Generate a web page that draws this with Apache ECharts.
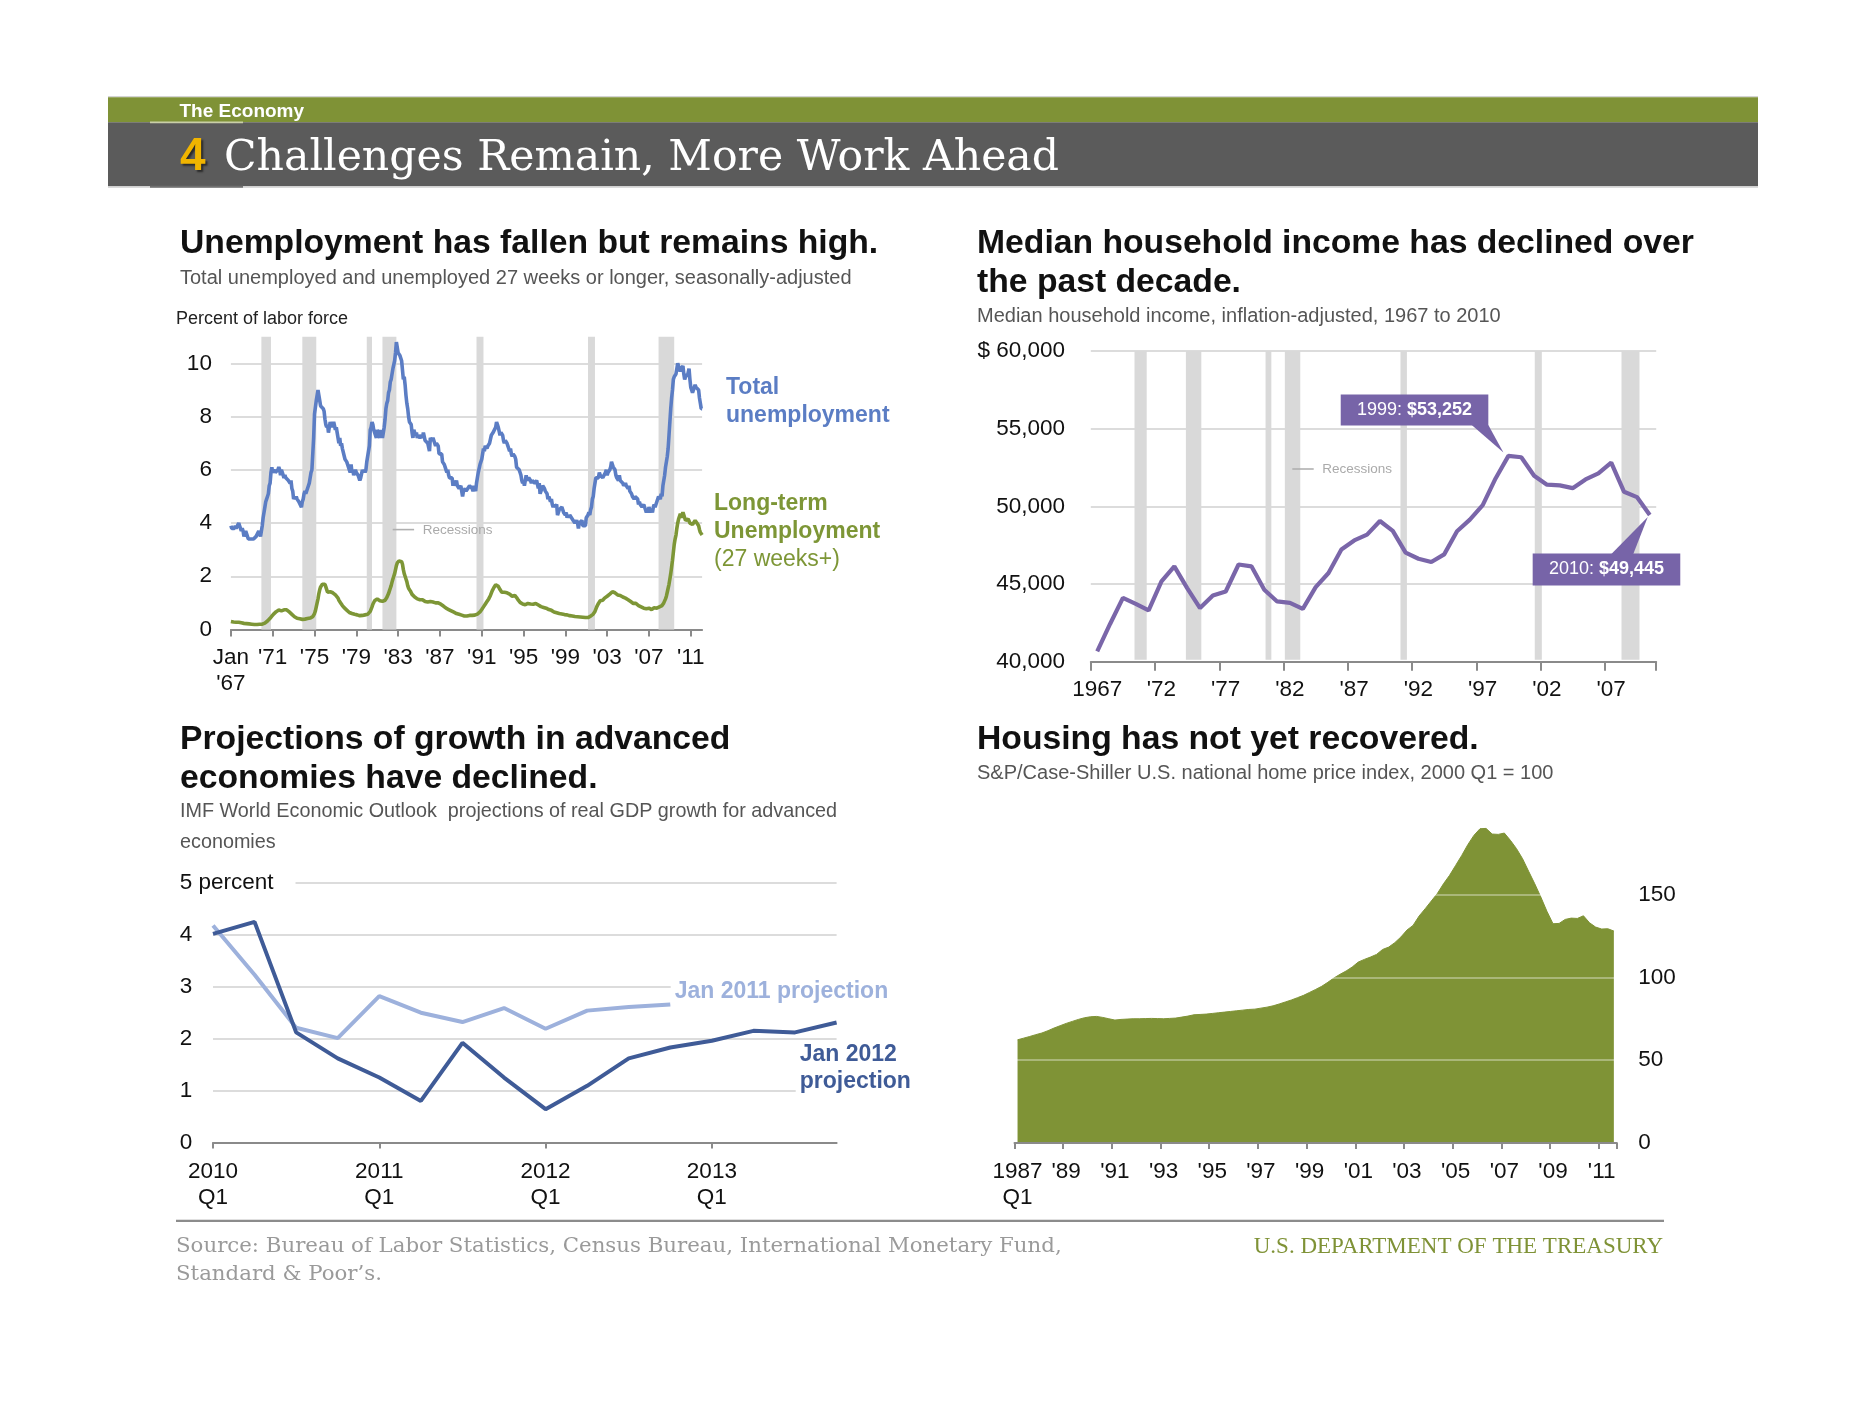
<!DOCTYPE html>
<html><head><meta charset="utf-8">
<script src="https://cdn.jsdelivr.net/npm/echarts@6/dist/echarts.min.js"></script>
<style>html,body{margin:0;padding:0;background:#fff}#c{width:1866px;height:1404px}</style>
</head><body><div id="c"></div>
<script>
const SANS = '"Liberation Sans", Arial, Helvetica, sans-serif';
const SERIF = '"DejaVu Serif", serif';
const SERIF2 = '"Liberation Serif", "Times New Roman", serif';

// ---------- Chart 1: unemployment (monthly, Jan 1967 - Feb 2012) ----------
const unemploymentTotal = [
3.9,3.8,3.8,3.8,3.8,3.9,3.8,3.8,3.8,4.0,3.9,3.8,
3.7,3.8,3.7,3.5,3.5,3.7,3.7,3.5,3.4,3.4,3.4,3.4,
3.4,3.4,3.4,3.4,3.4,3.5,3.5,3.5,3.7,3.7,3.5,3.5,
3.9,4.2,4.4,4.6,4.8,4.9,5.0,5.1,5.4,5.5,5.9,6.1,
5.9,5.9,6.0,5.9,5.9,5.9,6.0,6.1,6.0,5.8,6.0,6.0,
5.8,5.7,5.8,5.7,5.7,5.7,5.6,5.6,5.5,5.6,5.3,5.2,
4.9,5.0,4.9,5.0,4.9,4.9,4.8,4.8,4.8,4.6,4.8,4.9,
5.1,5.2,5.1,5.1,5.1,5.4,5.5,5.5,5.9,6.0,6.6,7.2,
8.1,8.1,8.6,8.8,9.0,8.8,8.6,8.4,8.4,8.4,8.3,8.2,
7.9,7.7,7.6,7.7,7.4,7.6,7.8,7.8,7.6,7.7,7.8,7.8,
7.5,7.6,7.4,7.2,7.0,7.2,6.9,7.0,6.8,6.8,6.8,6.4,
6.4,6.3,6.3,6.1,6.0,5.9,6.2,5.9,6.0,5.8,5.9,6.0,
5.9,5.9,5.8,5.8,5.6,5.7,5.7,6.0,5.9,6.0,5.9,6.0,
6.3,6.3,6.3,6.9,7.5,7.6,7.8,7.7,7.5,7.5,7.5,7.2,
7.5,7.4,7.4,7.2,7.5,7.5,7.2,7.4,7.6,7.9,8.3,8.5,
8.6,8.9,9.0,9.3,9.4,9.6,9.8,9.8,10.1,10.4,10.8,10.8,
10.4,10.4,10.3,10.2,10.1,10.1,9.4,9.5,9.2,8.8,8.5,8.3,
8.0,7.8,7.8,7.7,7.4,7.2,7.5,7.5,7.3,7.4,7.2,7.3,
7.3,7.2,7.2,7.3,7.2,7.4,7.4,7.1,7.1,7.1,7.0,7.0,
6.7,7.2,7.2,7.1,7.2,7.2,7.0,6.9,7.0,7.0,6.9,6.6,
6.6,6.6,6.6,6.3,6.3,6.2,6.1,6.0,5.9,6.0,5.8,5.7,
5.7,5.7,5.7,5.4,5.6,5.4,5.4,5.6,5.4,5.4,5.3,5.3,
5.4,5.2,5.0,5.2,5.2,5.3,5.2,5.2,5.3,5.3,5.4,5.4,
5.4,5.3,5.2,5.4,5.4,5.2,5.5,5.7,5.9,5.9,6.2,6.3,
6.4,6.6,6.8,6.7,6.9,6.9,6.8,6.9,6.9,7.0,7.0,7.3,
7.3,7.4,7.4,7.4,7.6,7.8,7.7,7.6,7.6,7.3,7.4,7.4,
7.3,7.1,7.0,7.1,7.1,7.0,6.9,6.8,6.7,6.8,6.6,6.5,
6.6,6.6,6.5,6.4,6.1,6.1,6.1,6.0,5.9,5.8,5.6,5.5,
5.6,5.4,5.4,5.8,5.6,5.6,5.7,5.7,5.6,5.5,5.6,5.6,
5.6,5.5,5.5,5.6,5.6,5.3,5.5,5.1,5.2,5.2,5.4,5.4,
5.3,5.2,5.2,5.1,4.9,5.0,4.9,4.8,4.9,4.7,4.6,4.7,
4.6,4.6,4.7,4.3,4.4,4.5,4.5,4.5,4.6,4.5,4.4,4.4,
4.3,4.4,4.2,4.3,4.2,4.3,4.3,4.2,4.2,4.1,4.1,4.0,
4.0,4.1,4.0,3.8,4.0,4.0,4.0,4.1,3.9,3.9,3.9,3.9,
4.2,4.2,4.3,4.4,4.3,4.5,4.6,4.9,5.0,5.3,5.5,5.7,
5.7,5.7,5.7,5.9,5.8,5.8,5.8,5.7,5.7,5.7,5.9,6.0,
5.8,5.9,5.9,6.0,6.1,6.3,6.2,6.1,6.1,6.0,5.8,5.7,
5.7,5.6,5.8,5.6,5.6,5.6,5.5,5.4,5.4,5.5,5.4,5.4,
5.3,5.4,5.2,5.2,5.1,5.0,5.0,4.9,5.0,5.0,5.0,4.9,
4.7,4.8,4.7,4.7,4.6,4.6,4.7,4.7,4.5,4.4,4.5,4.4,
4.6,4.5,4.4,4.5,4.4,4.6,4.7,4.6,4.7,4.7,4.7,5.0,
5.0,4.9,5.1,5.0,5.4,5.6,5.8,6.1,6.1,6.5,6.8,7.3,
7.8,8.3,8.7,9.0,9.4,9.5,9.5,9.6,9.8,10.0,9.9,9.9,
9.7,9.8,9.8,9.9,9.6,9.4,9.5,9.6,9.5,9.5,9.8,9.4,
9.1,9.0,8.9,9.0,9.1,9.2,9.1,9.1,9.1,9.0,8.7,8.5,
8.3,8.3];
const unemploymentLongTerm = [
.30,.29,.28,.28,.27,.27,.27,.26,.26,.27,.26,.25,
.25,.24,.24,.23,.23,.22,.22,.22,.21,.21,.21,.21,
.20,.20,.20,.19,.19,.19,.19,.19,.20,.20,.19,.19,
.20,.21,.22,.24,.26,.29,.32,.35,.38,.42,.46,.50,
.55,.58,.62,.65,.67,.70,.72,.73,.74,.72,.70,.71,
.72,.74,.76,.77,.74,.70,.68,.66,.63,.60,.57,.55,
.50,.48,.45,.44,.42,.42,.41,.40,.39,.38,.38,.38,
.38,.39,.39,.40,.41,.42,.42,.43,.44,.46,.48,.52,
.60,.70,.85,1.00,1.15,1.35,1.50,1.60,1.65,1.70,1.72,1.74,
1.70,1.60,1.50,1.40,1.35,1.38,1.42,1.40,1.35,1.38,1.40,1.35,
1.30,1.30,1.25,1.18,1.10,1.05,1.00,.95,.90,.85,.82,.78,
.75,.73,.70,.66,.64,.62,.62,.60,.58,.58,.57,.56,
.55,.55,.54,.53,.52,.52,.53,.53,.54,.55,.55,.56,
.56,.57,.59,.62,.68,.75,.85,.95,1.02,1.08,1.12,1.15,
1.15,1.12,1.10,1.08,1.08,1.07,1.06,1.05,1.07,1.10,1.15,1.20,
1.25,1.35,1.45,1.55,1.65,1.78,1.90,2.00,2.10,2.25,2.40,2.50,
2.55,2.58,2.62,2.60,2.55,2.45,2.25,2.10,2.00,1.90,1.80,1.65,
1.55,1.50,1.45,1.38,1.32,1.28,1.25,1.22,1.20,1.18,1.15,1.15,
1.15,1.12,1.10,1.10,1.12,1.10,1.08,1.05,1.05,1.05,1.03,1.00,
1.00,1.05,1.08,1.05,1.03,1.05,1.02,1.00,1.00,1.02,1.00,.98,
.95,.95,.93,.90,.88,.85,.83,.80,.78,.77,.75,.72,
.72,.70,.68,.66,.65,.63,.62,.60,.60,.58,.57,.56,
.55,.54,.52,.52,.51,.51,.50,.51,.52,.52,.53,.52,
.52,.53,.52,.53,.54,.55,.56,.58,.60,.62,.66,.70,
.75,.80,.85,.90,.95,1.00,1.05,1.10,1.15,1.20,1.28,1.35,
1.45,1.52,1.58,1.62,1.68,1.72,1.70,1.62,1.55,1.50,1.45,1.40,
1.40,1.42,1.40,1.38,1.40,1.38,1.35,1.37,1.33,1.30,1.28,1.25,
1.30,1.32,1.28,1.25,1.20,1.15,1.10,1.05,1.02,1.00,.98,.96,
.95,.94,.93,.95,1.00,.98,.97,.95,.96,.94,.93,.95,
1.02,1.00,.98,.97,.95,.92,.90,.88,.86,.85,.84,.83,
.82,.80,.80,.78,.77,.75,.74,.72,.72,.70,.68,.66,
.65,.64,.63,.62,.61,.60,.59,.58,.58,.57,.57,.56,
.56,.55,.55,.54,.53,.52,.52,.51,.51,.50,.50,.49,
.49,.48,.48,.47,.47,.47,.46,.46,.46,.45,.45,.45,
.46,.46,.45,.47,.48,.50,.52,.55,.58,.62,.68,.75,
.85,.92,.98,1.02,1.08,1.12,1.15,1.10,1.12,1.18,1.20,1.25,
1.25,1.28,1.30,1.33,1.38,1.40,1.42,1.38,1.40,1.38,1.35,1.32,
1.30,1.32,1.30,1.28,1.30,1.25,1.22,1.20,1.22,1.18,1.15,1.12,
1.12,1.10,1.08,1.05,1.02,1.00,.98,.95,.95,.98,.95,.92,
.90,.88,.88,.85,.85,.82,.80,.80,.78,.78,.80,.78,
.80,.78,.76,.75,.78,.80,.82,.80,.78,.80,.82,.85,
.85,.86,.88,.90,.92,1.00,1.05,1.15,1.25,1.40,1.55,1.70,
1.90,2.10,2.35,2.60,2.90,3.20,3.40,3.55,3.80,4.00,4.15,4.20,
4.35,4.20,4.25,4.40,4.35,4.20,4.10,4.05,4.10,4.15,4.10,4.00,
4.05,3.95,3.95,3.95,4.00,4.10,4.05,4.00,3.95,3.90,3.75,3.65,
3.65,3.55];
const months = unemploymentTotal.map((_, i) => (1967 + Math.floor(i / 12)) + '-' + String(i % 12 + 1).padStart(2, '0'));
const recessionsMonthly = [['1969-12','1970-11'],['1973-11','1975-03'],['1980-01','1980-07'],['1981-07','1982-11'],['1990-07','1991-03'],['2001-03','2001-11'],['2007-12','2009-06']];

// ---------- Chart 2: median household income ----------
const incomeYears = Array.from({length: 44}, (_, i) => String(1967 + i));
const medianIncome = [40670,42430,44110,43725,43300,45170,46140,44740,43450,44260,
44520,46260,46140,44630,43880,43790,43400,44800,45710,47230,
47810,48180,49060,48420,47020,46630,46420,46910,48400,49150,
50080,51800,53252,53164,51970,51398,51353,51174,51739,52124,
52823,50939,50599,49445];
const recessionsAnnual = [[1970.4,1971.35],[1974.4,1975.6],[1980.6,1981.05],[1982.1,1983.3],[1991.1,1991.6],[2001.55,2002.1],[2008.3,2009.7]];

// ---------- Chart 3: IMF projections ----------
const gdpQuarters = ['2010Q1','2010Q2','2010Q3','2010Q4','2011Q1','2011Q2','2011Q3','2011Q4','2012Q1','2012Q2','2012Q3','2012Q4','2013Q1','2013Q2','2013Q3','2013Q4'];
const gdpJan2011 = [4.18,3.23,2.21,2.01,2.82,2.50,2.32,2.59,2.19,2.54,2.61,2.66];
const gdpJan2012 = [4.02,4.25,2.12,1.62,1.25,0.80,1.92,1.25,0.64,1.09,1.62,1.83,1.96,2.15,2.12,2.31];

// ---------- Chart 4: home prices (quarterly 1987Q1 - 2011Q3) ----------
const homePriceIndex = [
62.3,63.3,64.3,65.4, 66.4,67.8,69.4,70.8, 72.2,73.4,74.6,75.6, 76.2,76.4,75.8,75.0,
74.2,74.6,74.8,75.0, 75.0,75.1,75.2,75.1, 75.0,75.2,75.4,76.0, 76.6,77.4,77.6,77.8,
78.2,78.6,79.0,79.4, 79.8,80.2,80.6,80.8, 81.4,82.0,82.8,83.9, 85.1,86.3,87.7,89.1,
90.9,92.7,94.6,97.0, 99.6,101.8,103.8,106.2, 109.2,110.8,112.2,113.8, 116.8,118.2,120.9,124.3,
128.5,131.3,137.0,141.4, 146.0,150.6,156.4,161.5, 167.5,173.5,180.0,185.6, 189.6,189.8,186.4,186.2,
187.0,182.6,177.6,171.5, 163.9,156.4,148.4,139.8, 132.3,132.5,134.9,135.7, 135.5,137.1,132.9,130.3,
129.1,129.3,127.9];
const homeQuarters = homePriceIndex.map((_, i) => (1987 + Math.floor(i / 4)) + 'Q' + (i % 4 + 1));

// ---------- styles ----------
const AXIS_GRAY = '#8a8a8a';
const GRID_GRAY = '#dcdcdc';
const tickFont = {color: '#111', fontSize: 22.5, fontFamily: SANS};
const C_BLUE = '#5b7dc4', C_GREEN = '#7d9636', C_PURPLE = '#7a66a9', C_LB = '#9db1dc', C_DB = '#3f5b97', C_AREA = '#7f9336';

const chart = echarts.init(document.getElementById('c'), null, {renderer: 'canvas'});

const grids = [
  {left: 230.9, top: 336.8, width: 471.2, height: 292.7},
  {left: 1090.8, top: 351.1, width: 565.4, height: 310.6},
  {left: 213, top: 883, width: 623.6, height: 259.4},
  {left: 1014.5, top: 811.5, width: 602.4, height: 331.6}
].map(g => Object.assign(g, {containLabel: false, outerBoundsMode: 'none', show: false}));

const axisLineG = {show: true, onZero: false, lineStyle: {color: AXIS_GRAY, width: 2}};

const option = {
  animation: false,
  backgroundColor: '#fff',
  textStyle: {fontFamily: SANS},
  grid: grids,
  xAxis: [
    {type: 'category', gridIndex: 0, data: months, boundaryGap: false, axisLine: axisLineG,
     axisTick: {show: true, interval: 47, length: 7, lineStyle: {color: AXIS_GRAY, width: 2}},
     axisLabel: Object.assign({interval: 47, margin: 15.5, lineHeight: 26,
       formatter: (v, i) => i === 0 ? "Jan\n'67" : "'" + v.slice(2, 4)}, tickFont),
     splitLine: {show: false}},
    {type: 'category', gridIndex: 1, data: incomeYears, boundaryGap: true, axisLine: axisLineG,
     axisTick: {show: true, interval: 4, alignWithLabel: false, length: 9, lineStyle: {color: AXIS_GRAY, width: 2}},
     axisLabel: Object.assign({interval: 4, margin: 16.5, formatter: (v, i) => i === 0 ? v : "'" + v.slice(2)}, tickFont),
     splitLine: {show: false}},
    {type: 'value', gridIndex: 1, min: 1967, max: 2011, show: false, splitLine: {show: false}},
    {type: 'category', gridIndex: 2, data: gdpQuarters, boundaryGap: false, axisLine: axisLineG,
     axisTick: {show: true, interval: 3, length: 6, lineStyle: {color: AXIS_GRAY, width: 2}},
     axisLabel: Object.assign({interval: 3, margin: 16, lineHeight: 26, formatter: v => v.slice(0, 4) + '\nQ1'}, tickFont),
     splitLine: {show: false}},
    {type: 'category', gridIndex: 3, data: homeQuarters, boundaryGap: true, z: 3, axisLine: axisLineG,
     axisTick: {show: true, interval: 7, alignWithLabel: false, length: 6, lineStyle: {color: AXIS_GRAY, width: 2}},
     axisLabel: Object.assign({interval: 7, margin: 16, lineHeight: 26,
       formatter: (v, i) => i === 0 ? v.slice(0, 4) + '\nQ1' : "'" + v.slice(2, 4)}, tickFont),
     splitLine: {show: false}}
  ],
  yAxis: [
    {type: 'value', gridIndex: 0, min: 0, max: 11, interval: 2, axisLine: {show: false}, axisTick: {show: false},
     axisLabel: Object.assign({margin: 19, formatter: v => v > 10 ? '' : String(v)}, tickFont),
     splitLine: {show: true, showMaxLine: false, lineStyle: {color: [GRID_GRAY, GRID_GRAY, GRID_GRAY, GRID_GRAY, GRID_GRAY, GRID_GRAY, 'rgba(0,0,0,0)'], width: 2}}},
    {type: 'value', gridIndex: 1, min: 40000, max: 60000, interval: 5000, axisLine: {show: false}, axisTick: {show: false},
     axisLabel: Object.assign({margin: 25.8, formatter: v => (v === 60000 ? '$ ' : '') + v.toLocaleString('en-US')}, tickFont),
     splitLine: {show: true, lineStyle: {color: GRID_GRAY, width: 2}}},
    {type: 'value', gridIndex: 2, min: 0, max: 5, interval: 1, axisLine: {show: false}, axisTick: {show: false},
     axisLabel: Object.assign({margin: 33.3, align: 'left', formatter: v => v === 5 ? '{p|5 percent}' : String(v),
       rich: {p: {color: '#111', fontSize: 22.5, fontFamily: SANS, backgroundColor: '#fff', padding: [4, 22, 4, 0]}}}, tickFont),
     splitLine: {show: true, lineStyle: {color: GRID_GRAY, width: 2}}},
    {type: 'value', gridIndex: 3, position: 'right', min: 0, max: 200, interval: 50, z: 3, axisLine: {show: false}, axisTick: {show: false},
     axisLabel: Object.assign({margin: 21.4, align: 'left', formatter: v => v >= 200 ? '' : String(v)}, tickFont),
     splitLine: {show: true, showMaxLine: false, lineStyle: {color: ['rgba(255,255,255,0.45)', 'rgba(255,255,255,0.45)', 'rgba(255,255,255,0.45)', 'rgba(255,255,255,0.45)', 'rgba(0,0,0,0)'], width: 1.5}}}
  ],
  series: [
    {type: 'custom', name: 'Recessions (monthly)', xAxisIndex: 0, yAxisIndex: 0, silent: true, z: 1, clip: false,
     data: recessionsMonthly.map(r => [months.indexOf(r[0]), months.indexOf(r[1]), 5]),
     encode: {x: [0, 1], y: 2},
     renderItem: (params, api) => {
       const a = api.coord([api.value(0), 11]);
       const b = api.coord([api.value(1), 0]);
       return {type: 'rect', shape: {x: a[0], y: a[1], width: b[0] - a[0], height: b[1] - a[1]}, style: {fill: '#d9d9d9'}};
     }},
    {type: 'line', name: 'Total unemployment', xAxisIndex: 0, yAxisIndex: 0, data: unemploymentTotal, symbol: 'none', z: 3,
     lineStyle: {color: C_BLUE, width: 3.6}, itemStyle: {color: C_BLUE}},
    {type: 'line', name: 'Long-term unemployment', xAxisIndex: 0, yAxisIndex: 0, data: unemploymentLongTerm, symbol: 'none', z: 3,
     lineStyle: {color: C_GREEN, width: 3.6}, itemStyle: {color: C_GREEN}},
    {type: 'custom', name: 'Recessions (annual)', xAxisIndex: 2, yAxisIndex: 1, silent: true, z: 1, clip: false,
     data: recessionsAnnual.map(r => [r[0], r[1], 50000]),
     encode: {x: [0, 1], y: 2},
     renderItem: (params, api) => {
       const a = api.coord([api.value(0), 60000]);
       const b = api.coord([api.value(1), 40000]);
       return {type: 'rect', shape: {x: a[0], y: a[1], width: b[0] - a[0], height: b[1] - a[1] - 2}, style: {fill: '#d9d9d9'}};
     }},
    {type: 'line', name: 'Median household income', xAxisIndex: 1, yAxisIndex: 1, data: medianIncome, symbol: 'none', z: 3,
     lineStyle: {color: C_PURPLE, width: 4.2}, itemStyle: {color: C_PURPLE}},
    {type: 'line', name: 'Jan 2011 projection', xAxisIndex: 3, yAxisIndex: 2, data: gdpJan2011, symbol: 'none', z: 3,
     lineStyle: {color: C_LB, width: 4}, itemStyle: {color: C_LB}},
    {type: 'line', name: 'Jan 2012 projection', xAxisIndex: 3, yAxisIndex: 2, data: gdpJan2012, symbol: 'none', z: 4,
     lineStyle: {color: C_DB, width: 4}, itemStyle: {color: C_DB}},
    {type: 'line', name: 'Home price index', xAxisIndex: 4, yAxisIndex: 3, data: homePriceIndex, symbol: 'none', z: 2,
     lineStyle: {color: C_AREA, width: 1}, itemStyle: {color: C_AREA}, areaStyle: {color: C_AREA, opacity: 1}}
  ]
};
chart.setOption(option);

function txt(x, y, text, o) {
  o = o || {};
  return {type: 'text', z: 20, silent: true, x: x, y: y,
    style: Object.assign({text: text, fill: o.fill || '#111', fontSize: o.size || 20, fontFamily: o.family || SANS,
      fontWeight: o.weight || 'normal', align: o.align || 'left', verticalAlign: 'middle'}, o.extra || {})};
}
function rect(x, y, w, h, fill, z) {
  return {type: 'rect', silent: true, z: z || 5, shape: {x: x, y: y, width: w, height: h}, style: {fill: fill}};
}
const fmt = v => '$' + v.toLocaleString('en-US');

const g = [];
// header
g.push(rect(108, 96, 1650, 1.3, '#d4d4d4'));
g.push(rect(108, 97.3, 1650, 25, '#7f9236'));
g.push(rect(108, 122.3, 1650, 64, '#5b5b5b'));
g.push(rect(108, 186.3, 1650, 1.5, '#cfcfcf'));
g.push(rect(150, 121.6, 93, 1.6, '#c9cfa8', 6));
g.push(rect(150, 185.8, 93, 2, '#707070', 6));
g.push(txt(179.5, 112, 'The Economy', {fill: '#fff', size: 19, weight: 'bold'}));
g.push(txt(180, 157.5, '4', {fill: '#f0b400', size: 46, weight: 'bold',
  extra: {textShadowColor: 'rgba(0,0,0,0.55)', textShadowBlur: 2, textShadowOffsetX: 2, textShadowOffsetY: 2}}));
g.push(txt(224, 158.5, 'Challenges Remain, More Work Ahead', {fill: '#fff', size: 42.6, family: SERIF,
  extra: {stroke: '#5b5b5b', lineWidth: 1.4}}));

// chart titles
const H = {size: 33.7, weight: 'bold', fill: '#111'};
const S = {size: 20, fill: '#555'};
g.push(txt(180, 243.5, 'Unemployment has fallen but remains high.', H));
g.push(txt(180, 278, 'Total unemployed and unemployed 27 weeks or longer, seasonally-adjusted', S));
g.push(txt(176, 319.5, 'Percent of labor force', {size: 18, fill: '#222'}));
g.push(txt(977, 243.5, 'Median household income has declined over', H));
g.push(txt(977, 283, 'the past decade.', H));
g.push(txt(977, 316.5, 'Median household income, inflation-adjusted, 1967 to 2010', S));
g.push(txt(180, 739.5, 'Projections of growth in advanced', H));
g.push(txt(180, 779, 'economies have declined.', H));
g.push(txt(180, 811.5, 'IMF World Economic Outlook  projections of real GDP growth for advanced', {size: 19.8, fill: '#555'}));
g.push(txt(180, 842.5, 'economies', {size: 19.8, fill: '#555'}));
g.push(txt(977, 739.5, 'Housing has not yet recovered.', H));
g.push(txt(977, 773.5, 'S&P/Case-Shiller U.S. national home price index, 2000 Q1 = 100', S));

// series labels
const L = {size: 23, weight: 'bold'};
const mask = {backgroundColor: '#fff', padding: [1, 4, 1, 4]};
g.push(txt(726, 388, 'Total', Object.assign({fill: C_BLUE}, L)));
g.push(txt(726, 415.5, 'unemployment', Object.assign({fill: C_BLUE}, L)));
g.push(txt(714, 503.5, 'Long-term', Object.assign({fill: C_GREEN}, L)));
g.push(txt(714, 532, 'Unemployment', Object.assign({fill: C_GREEN}, L)));
g.push(txt(714, 559.5, '(27 weeks+)', {fill: C_GREEN, size: 23}));
g.push(txt(670.7, 991.5, 'Jan 2011 projection', Object.assign({fill: C_LB, extra: mask}, L)));
g.push(txt(795.7, 1054.5, 'Jan 2012', Object.assign({fill: C_DB, extra: mask}, L)));
g.push(txt(795.7, 1081.8, 'projection', Object.assign({fill: C_DB, extra: mask}, L)));

// recession legends
[[392.7, 529.6], [1292.3, 469]].forEach(p => {
  g.push({type: 'line', silent: true, z: 20, shape: {x1: p[0], y1: p[1], x2: p[0] + 21.4, y2: p[1]}, style: {stroke: '#b0b0b0', lineWidth: 1.6}});
  g.push(txt(p[0] + 30, p[1] + 0.5, 'Recessions', {size: 13.5, fill: '#aaa'}));
});

// footer
g.push(rect(176, 1219, 1488, 1, '#e0e0e0'));
g.push(rect(176, 1220, 1488, 2, '#8c8c8c'));
g.push(txt(176, 1246.5, 'Source: Bureau of Labor Statistics, Census Bureau, International Monetary Fund,', {size: 21.3, fill: '#9a9a9a', family: SERIF,
  extra: {stroke: '#fff', lineWidth: 0.6}}));
g.push(txt(176, 1274, 'Standard & Poor\u2019s.', {size: 21.3, fill: '#9a9a9a', family: SERIF, extra: {stroke: '#fff', lineWidth: 0.6}}));
g.push(txt(1663, 1247, 'U.S. DEPARTMENT OF THE TREASURY', {size: 23, fill: '#7f9236', family: SERIF2, align: 'right'}));

// income annotations, anchored on data points
const INCOME_SERIES = 4;
const i99 = incomeYears.indexOf('1999'), i10 = incomeYears.indexOf('2010');
const p1 = chart.convertToPixel({seriesIndex: INCOME_SERIES}, [i99, medianIncome[i99]]);
const p2 = chart.convertToPixel({seriesIndex: INCOME_SERIES}, [i10, medianIncome[i10]]);
const BOX = '#7764a8';
const rich = {a: {fill: '#fff', fontSize: 18, fontFamily: SANS}, b: {fill: '#fff', fontSize: 18, fontFamily: SANS, fontWeight: 'bold'}};
function box(x, y, w, h, label) {
  g.push({type: 'rect', silent: true, z: 30, shape: {x: x, y: y, width: w, height: h}, style: {fill: BOX}});
  g.push({type: 'text', silent: true, z: 31, x: x + w / 2, y: y + h / 2,
    style: {text: label, rich: rich, align: 'center', verticalAlign: 'middle', fill: '#fff', fontSize: 18, fontFamily: SANS}});
}
box(p1[0] - 167.7, p1[1] - 61.4, 147.6, 31, '{a|' + incomeYears[i99] + ': }{b|' + fmt(medianIncome[i99]) + '}');
g.push({type: 'polygon', silent: true, z: 30, shape: {points: [[p1[0] - 36.7, p1[1] - 31], [p1[0] - 20.1, p1[1] - 31], [p1[0] - 5, p1[1] - 3.5]]}, style: {fill: BOX}});
box(p2[0] - 117.1, p2[1] + 38.4, 147.6, 32, '{a|' + incomeYears[i10] + ': }{b|' + fmt(medianIncome[i10]) + '}');
g.push({type: 'polygon', silent: true, z: 30, shape: {points: [[p2[0] - 38.4, p2[1] + 39], [p2[0] - 16.5, p2[1] + 39], [p2[0] - 2, p2[1] + 2]]}, style: {fill: BOX}});

chart.setOption({graphic: {elements: g}});
</script></body></html>
